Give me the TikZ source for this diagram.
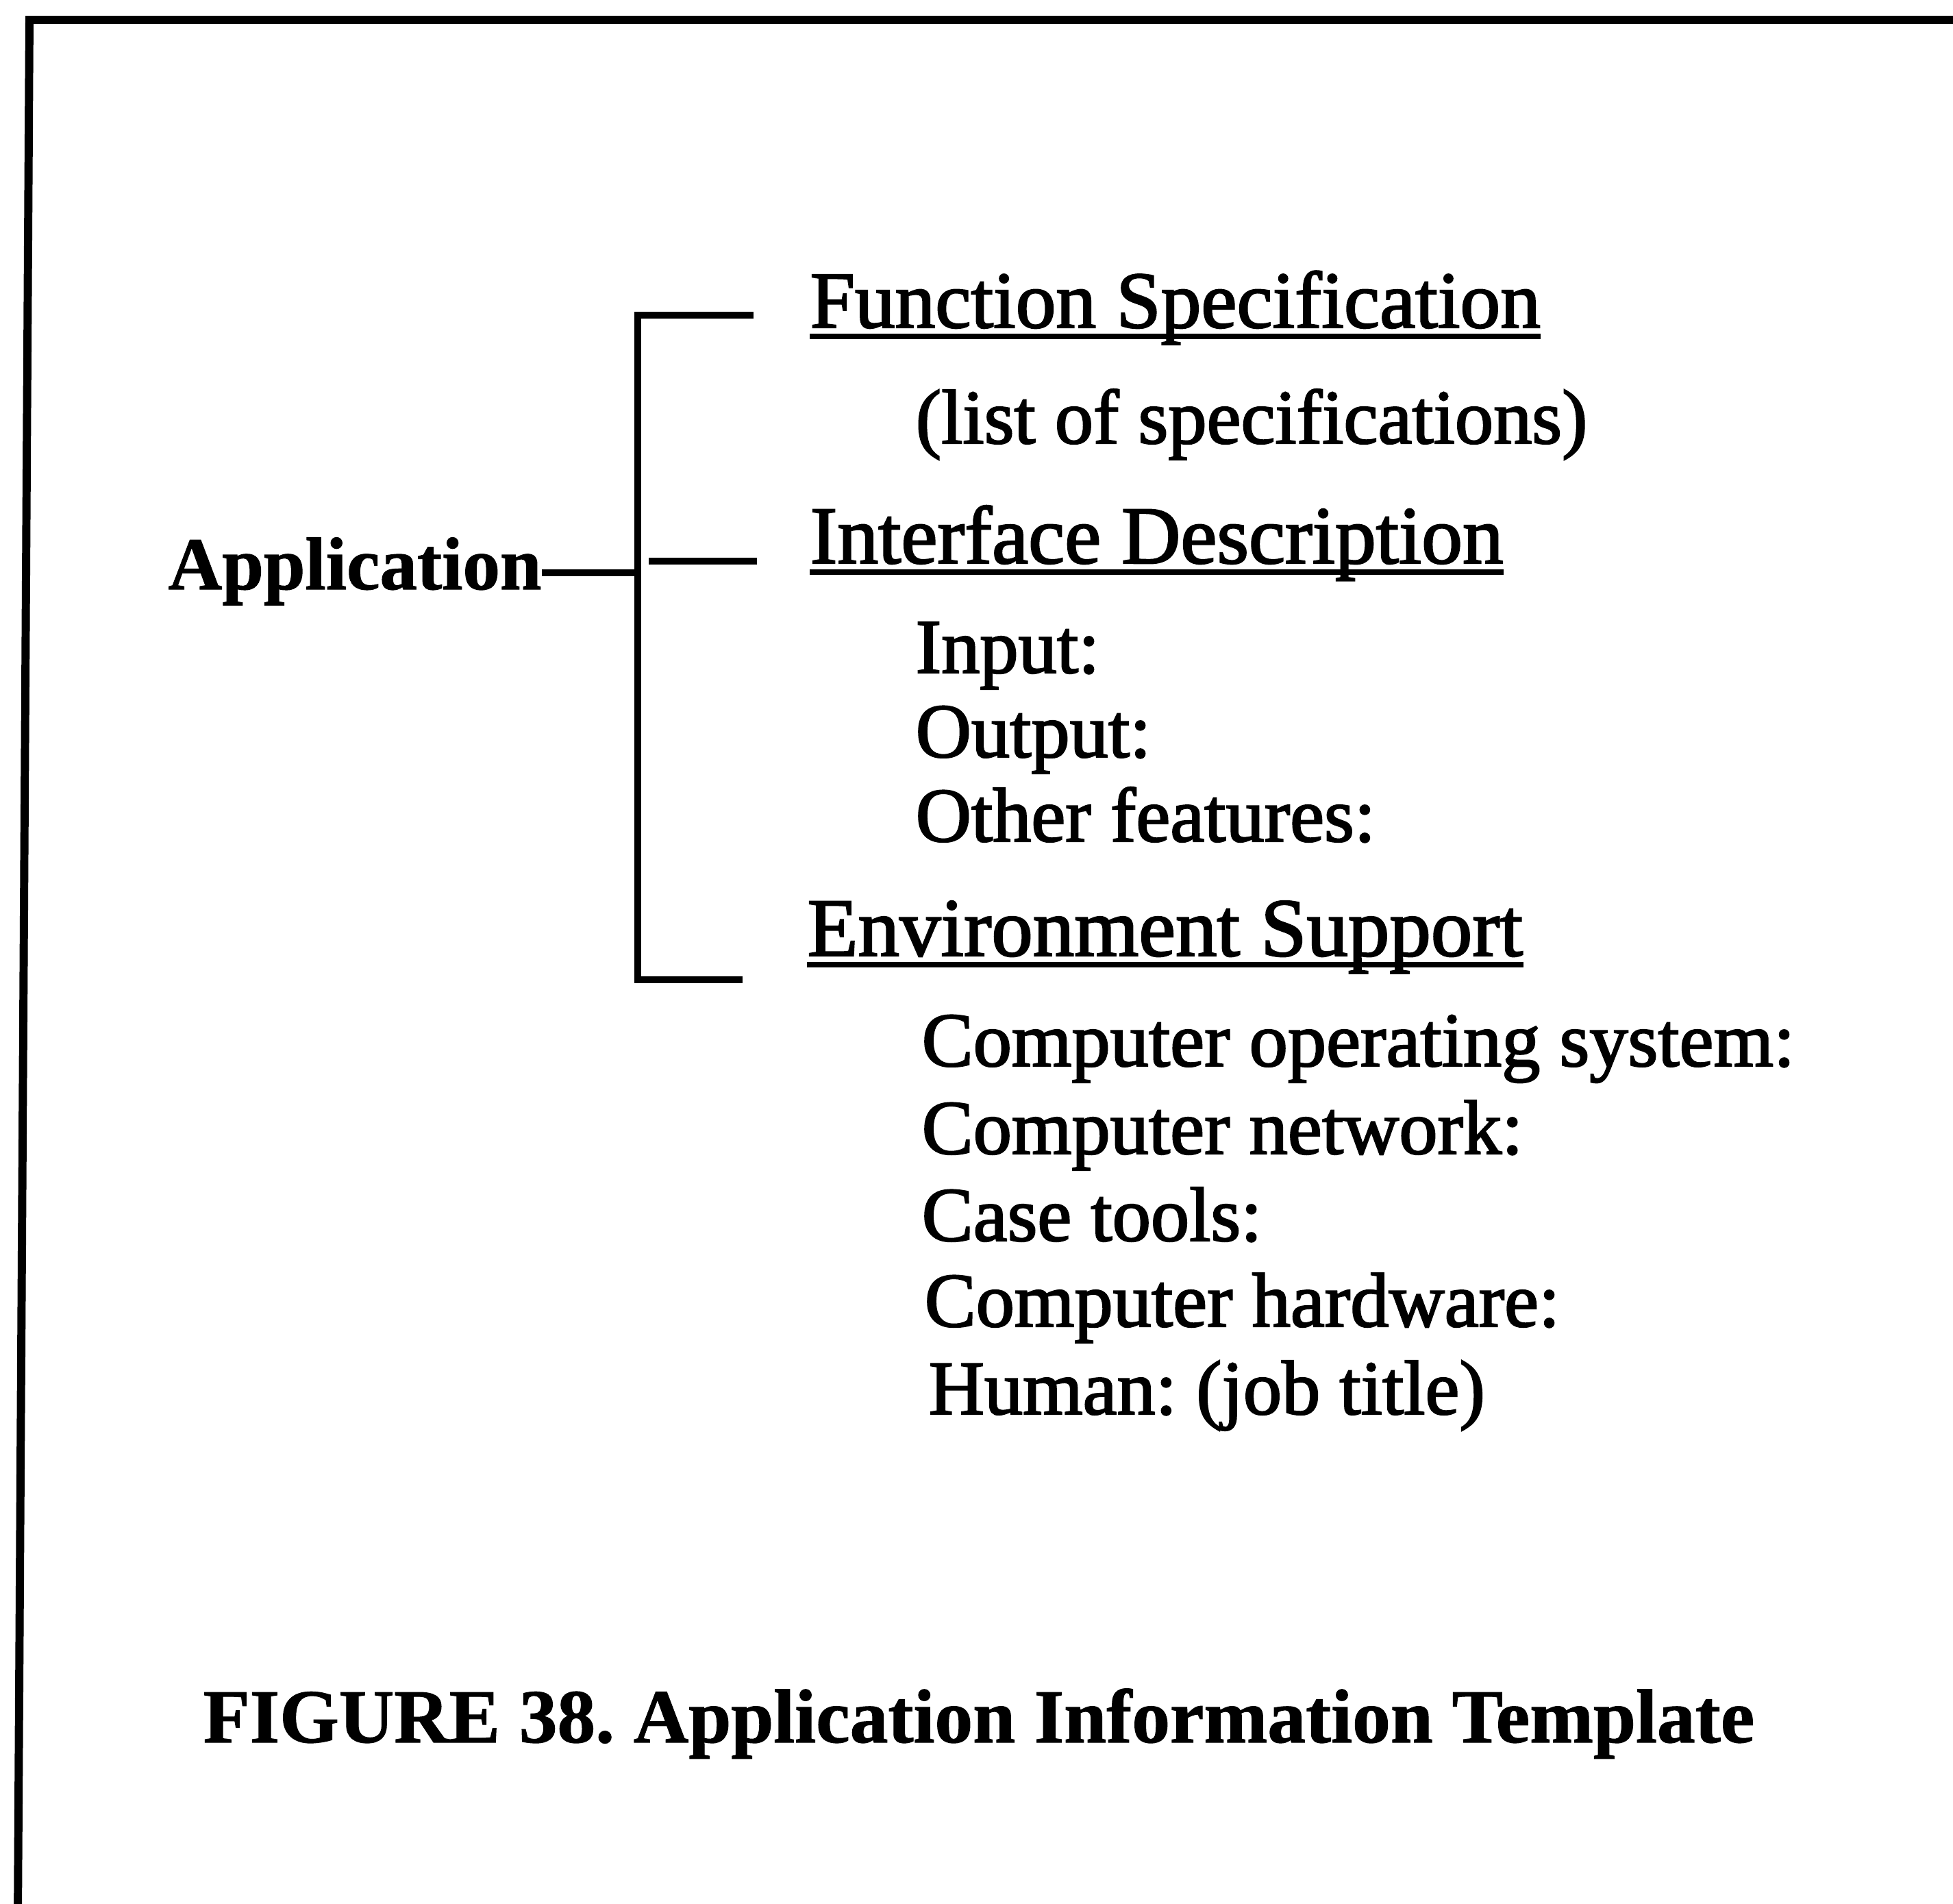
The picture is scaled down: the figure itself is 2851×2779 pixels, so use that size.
\documentclass[tikz,border=0pt]{standalone}
\usepackage{fontspec}
\setmainfont{Liberation Serif}
\newfontfamily\bodyfont[UprightFeatures={FakeBold=2}]{Liberation Serif}
\newfontfamily\labelfont[UprightFeatures={FakeBold=1}]{Liberation Serif Bold}
\frenchspacing
\begin{document}
\begin{tikzpicture}[x=0.1mm,y=-0.1mm,
  item/.style={anchor=base west, inner sep=0pt, font=\bodyfont\fontsize{32}{38}\selectfont},
  heading/.style={item, font=\bodyfont\fontsize{34}{40}\selectfont},
  tag/.style={anchor=base west, inner sep=0pt, font=\labelfont\fontsize{31}{37}\selectfont},
  link/.style={line width=2.9pt, line cap=butt},
  frame/.style={line width=3.4pt, line join=miter},
  uline/.style={line width=2.4pt}]
\useasboundingbox (0,0) rectangle (2851,2779);

% outer frame: only the top and left edges
\coordinate (frTL) at (43,29);
\coordinate (frBL) at (26,2800);
\coordinate (frTR) at (2870,29);
\draw[frame] (frBL) -- (frTL) -- (frTR);

% root label
\node[tag] (app) at (245,860) {Application};

% section headings
\node[heading, font=\bodyfont\fontsize{33.4}{40}\selectfont] (fs) at (1182,478) {Function Specification};
\node[heading] (id) at (1182,822) {Interface Description};
\node[heading, font=\bodyfont\fontsize{34.4}{40}\selectfont] (es) at (1178,1395) {Environment Support};
\foreach \n in {fs,id,es}
  \draw[uline] ([yshift=-3.7pt]\n.base west) -- ([yshift=-3.7pt]\n.base east);

% entries
\node[item] (ls)  at (1336,647)  {(list of specifications)};
\node[item] (inp) at (1336,982)  {Input:};
\node[item] (outp) at (1336,1105) {Output:};
\node[item] (oth) at (1336,1228) {Other features:};
\node[item] (cos) at (1345,1556) {Computer operating system:};
\node[item] (cnw) at (1345,1684) {Computer network:};
\node[item] (ct)  at (1345,1811) {Case tools:};
\node[item] (chw) at (1349,1936) {Computer hardware:};
\node[item] (hum) at (1355,2064) {Human: (job title)};

% bracket joining the root to the three headings
\coordinate (bt) at (931,460);
\coordinate (bm) at (931,836);
\coordinate (bb) at (931,1430);
\coordinate (tEnd) at (1100,460);
\coordinate (mBeg) at (947,819);
\coordinate (mEnd) at (1105,819);
\coordinate (bEnd) at (1084,1430);
\draw[link] (tEnd) -- (bt) -- (bb) -- (bEnd);
\draw[link] (mBeg) -- (mEnd);
\draw[link] (app.east |- bm) -- (bm);

% caption
\node[tag, font=\labelfont\fontsize{31.7}{38}\selectfont] (cap) at (296,2543) {FIGURE 38. Application Information Template};
\end{tikzpicture}
\end{document}
